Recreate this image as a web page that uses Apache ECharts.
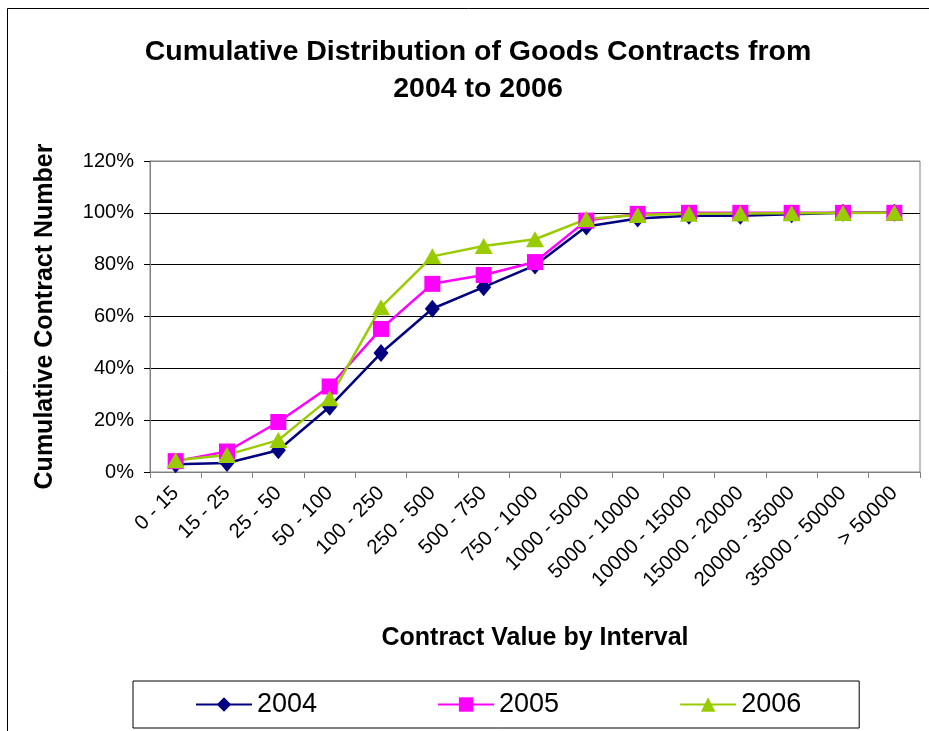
<!DOCTYPE html>
<html>
<head>
<meta charset="utf-8">
<script src="https://cdn.jsdelivr.net/npm/echarts@6/dist/echarts.min.js"></script>
<style>
  html, body { margin: 0; padding: 0; background: #fff; }
  #chart { width: 929px; height: 731px; }
</style>
</head>
<body>
<div id="chart"></div>
<script>
var categories = ['0 - 15', '15 - 25', '25 - 50', '50 - 100', '100 - 250', '250 - 500', '500 - 750',
    '750 - 1000', '1000 - 5000', '5000 - 10000', '10000 - 15000', '15000 - 20000', '20000 - 35000',
    '35000 - 50000', '> 50000'];
var yTicks = [0, 20, 40, 60, 80, 100, 120];
var s2004 = [3, 3.5, 8.4, 25.2, 45.9, 63, 71.3, 79.7, 94.7, 97.8, 98.9, 98.9, 99.5, 100, 100];
var s2005 = [4.2, 7.9, 19.3, 33, 55.2, 72.6, 76, 81, 97, 99.6, 100, 100, 100, 100, 100];
var s2006 = [4.5, 6.6, 12.3, 28.5, 63.6, 83.2, 87.2, 89.8, 97.6, 99.2, 99.6, 99.7, 99.8, 99.9, 100];

var FONT = '"Liberation Sans", Arial, sans-serif';
var chart = echarts.init(document.getElementById('chart'));

// outer chart-area frame, like the spreadsheet export
var frame = {
    type: 'rect',
    shape: { x: 7.5, y: 8.5, width: 960, height: 760 },
    style: { fill: 'none', stroke: '#000', lineWidth: 1 },
    silent: true
};

chart.setOption({
    animation: false,
    textStyle: { fontFamily: FONT },
    graphic: [frame],
    title: {
        text: 'Cumulative Distribution of Goods Contracts from\n2004 to 2006',
        left: 473, top: 29, textAlign: 'center',
        textStyle: { fontSize: 28.5, fontWeight: 'bold', color: '#000', lineHeight: 37, fontFamily: FONT }
    },
    legend: {
        left: 133, top: 681,
        padding: [10, 58, 10, 62],
        itemGap: 120,
        itemWidth: 56, itemHeight: 18,
        borderColor: '#000', borderWidth: 1,
        textStyle: { fontSize: 27, color: '#000', fontFamily: FONT },
        data: ['2004', '2005', '2006']
    },
    grid: {
        left: 150, right: 9, top: 161, bottom: 259,
        show: true, borderColor: '#808080', borderWidth: 1, backgroundColor: '#fff'
    },
    xAxis: {
        type: 'category',
        data: categories,
        boundaryGap: true,
        name: 'Contract Value by Interval',
        nameLocation: 'middle', nameGap: 154,
        nameTextStyle: { fontSize: 25, fontWeight: 'bold', color: '#000', fontFamily: FONT },
        axisLine: { lineStyle: { color: '#808080', width: 1 } },
        axisTick: { show: true, alignWithLabel: false, length: 6, lineStyle: { color: '#808080' } },
        axisLabel: { rotate: 45, interval: 0, fontSize: 20.5, color: '#000', margin: 18, fontFamily: FONT }
    },
    yAxis: {
        type: 'value',
        min: yTicks[0], max: yTicks[yTicks.length - 1], interval: 20,
        name: 'Cumulative Contract Number',
        nameLocation: 'middle', nameGap: 92,
        nameTextStyle: { fontSize: 25, fontWeight: 'bold', color: '#000', fontFamily: FONT },
        axisLine: { show: true, lineStyle: { color: '#808080', width: 1 } },
        axisTick: { show: true, length: 6, lineStyle: { color: '#000' } },
        axisLabel: { formatter: '{value}%', fontSize: 20, color: '#000', margin: 16, fontFamily: FONT },
        splitLine: { show: true, lineStyle: { color: ['#808080', '#000', '#000', '#000', '#000', '#000', '#808080'], width: 1 } }
    },
    series: [
        {
            name: '2004', type: 'line', data: s2004,
            symbol: 'diamond', symbolSize: [15, 18],
            itemStyle: { color: '#000080' },
            lineStyle: { color: '#000080', width: 2.5 }
        },
        {
            name: '2005', type: 'line', data: s2005,
            symbol: 'rect', symbolSize: 16,
            itemStyle: { color: '#FF00FF' },
            lineStyle: { color: '#FF00FF', width: 2.5 }
        },
        {
            name: '2006', type: 'line', data: s2006,
            symbol: 'triangle', symbolSize: [18, 16],
            itemStyle: { color: '#99CC00' },
            lineStyle: { color: '#99CC00', width: 2.5 }
        }
    ]
});
</script>
</body>
</html>
